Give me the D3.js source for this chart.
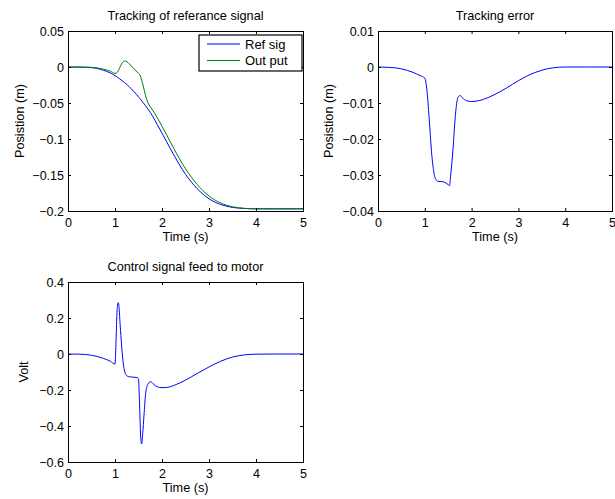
<!DOCTYPE html>
<html>
<meta charset="utf-8">
<head>
  <title>Tracking plots</title>
</head>

<style>
body { margin: 0; background: white; }
text {
  font-family: "Liberation Sans", Arial, Helvetica, sans-serif;
  font-size: 12.7px;
  fill: black;
}
.tick text { font-size: 12.5px; }
.legend text { font-size: 13px; }
</style>

<body>
  <div id="chart"></div>

  <script src="https://d3js.org/d3.v7.min.js"></script>
  <script>

// time base for position plots (s)
var timePos = [0, 0.25, 0.5, 0.75, 0.9, 1.0, 1.05, 1.1, 1.15, 1.2, 1.25, 1.3, 1.35, 1.4, 1.45, 1.5, 1.53, 1.55,
  1.6, 1.65, 1.7, 1.75, 1.8, 1.9, 2.0, 2.1, 2.25, 2.5, 2.75, 3.0, 3.25, 3.5, 3.75, 4.0, 4.5, 5.0];

var refSig = [0, -0.0002, -0.0009, -0.0045, -0.0082, -0.0120, -0.0142, -0.0165, -0.0190, -0.0215, -0.0240,
  -0.0272, -0.0305, -0.0340, -0.0377, -0.0415, -0.0439, -0.0455, -0.0496, -0.0538, -0.0583, -0.0630, -0.0683,
  -0.0800, -0.0920, -0.1040, -0.1220, -0.1490, -0.1690, -0.1830, -0.1910, -0.1950, -0.1965, -0.1970, -0.1970, -0.1970];

var outPut = [0, -0.0001, -0.0004, -0.0030, -0.0058, -0.0089, -0.0072, -0.0010, 0.0055, 0.0082, 0.0075,
  0.0046, 0.0013, -0.0021, -0.0055, -0.0088, -0.0110, -0.0145, -0.0261, -0.0398, -0.0495, -0.0551, -0.0598,
  -0.0706, -0.0824, -0.0945, -0.1130, -0.1414, -0.1632, -0.1792, -0.1889, -0.1941, -0.1963, -0.1970, -0.1970, -0.1970];

var trackErr = [0, -0.0001, -0.0005, -0.0015, -0.0024, -0.0031, -0.0070, -0.0155, -0.0245, -0.0297, -0.0315,
  -0.0318, -0.0318, -0.0319, -0.0322, -0.0327, -0.0329, -0.0305, -0.0233, -0.0140, -0.0088, -0.0079, -0.0085,
  -0.0094, -0.0096, -0.0095, -0.0090, -0.0076, -0.0058, -0.0038, -0.0021, -0.0009, -0.0002, 0, 0, 0];

// control signal has its own time base
var timeCtl = [0, 0.25, 0.5, 0.75, 0.9, 1.0, 1.01, 1.025, 1.04, 1.055, 1.07, 1.085, 1.11, 1.14, 1.17, 1.2,
  1.24, 1.28, 1.35, 1.45, 1.49, 1.5, 1.52, 1.545, 1.567, 1.59, 1.617, 1.65, 1.7, 1.76, 1.83, 1.9, 2.0, 2.1,
  2.25, 2.5, 2.75, 3.0, 3.25, 3.5, 3.75, 4.0, 4.5, 5.0];

var ctlVolt = [0, -0.001, -0.007, -0.024, -0.040, -0.056, -0.020, 0.100, 0.220, 0.272, 0.285, 0.262, 0.160,
  0.050, -0.040, -0.090, -0.118, -0.125, -0.128, -0.130, -0.135, -0.140, -0.260, -0.450, -0.500, -0.440,
  -0.340, -0.225, -0.168, -0.154, -0.170, -0.182, -0.187, -0.186, -0.175, -0.145, -0.108, -0.072, -0.040,
  -0.017, -0.005, -0.001, 0, 0];

var timeTicks = [0, 1, 2, 3, 4, 5];
var posTicks = [0.05, 0, -0.05, -0.1, -0.15, -0.2];
var posTickLabels = ["0.05", "0", "\u22120.05", "\u22120.1", "\u22120.15", "\u22120.2"];
var errTicks = [0.01, 0, -0.01, -0.02, -0.03, -0.04];
var errTickLabels = ["0.01", "0", "\u22120.01", "\u22120.02", "\u22120.03", "\u22120.04"];
var voltTicks = [0.4, 0.2, 0, -0.2, -0.4, -0.6];
var voltTickLabels = ["0.4", "0.2", "0", "\u22120.2", "\u22120.4", "\u22120.6"];
var legendNames = ["Ref sig", "Out put"];

var svg = d3.select('#chart')
  .append('svg')
  .attr('width', 615)
  .attr('height', 499);

svg.append('rect').attr('width', 615).attr('height', 499).attr('fill', 'white');

function drawPanel(p) {
  var w = p.right - p.left, h = p.bottom - p.top;
  var x = d3.scaleLinear().domain([0, 5]).range([0, w]);
  var y = d3.scaleLinear().domain([p.ticks[p.ticks.length - 1], p.ticks[0]]).range([h, 0]);

  var g = svg.append('g').attr('transform', `translate(${p.left},${p.top})`);

  // lines first so the frame sits on top
  p.series.forEach(function(s) {
    var pts = s.t.map(function(t, i) { return [t, s.v[i]]; });
    var line = d3.line()
      .x(function(d) { return x(d[0]); })
      .y(function(d) { return y(d[1]); })
      .curve(d3.curveMonotoneX);
    g.append('path')
      .attr('d', line(pts))
      .attr('fill', 'none')
      .attr('stroke', s.color)
      .attr('stroke-width', 1);
  });

  var fmtY = function(d) { return p.labels[p.ticks.indexOf(d)]; };

  g.append('g').attr('transform', `translate(0,${h})`)
    .call(d3.axisBottom(x).tickValues(timeTicks).tickSize(-3).tickPadding(7).tickFormat(d3.format('d')));
  g.append('g')
    .call(d3.axisTop(x).tickValues(timeTicks).tickSize(-3).tickFormat(''));
  g.append('g')
    .call(d3.axisLeft(y).tickValues(p.ticks).tickSize(-3).tickPadding(4).tickFormat(fmtY));
  g.append('g').attr('transform', `translate(${w},0)`)
    .call(d3.axisRight(y).tickValues(p.ticks).tickSize(-3).tickFormat(''));

  g.selectAll('.domain').remove();
  g.selectAll('.tick line').attr('stroke', 'black');
  g.selectAll('.tick text').attr('fill', 'black').attr('font-family', null).attr('font-size', null);

  g.append('rect')
    .attr('width', w).attr('height', h)
    .attr('fill', 'none').attr('stroke', 'black').attr('stroke-width', 1)
    .attr('shape-rendering', 'crispEdges');

  g.append('text').attr('x', w / 2).attr('y', -11.5)
    .attr('text-anchor', 'middle').text(p.title);
  g.append('text').attr('x', w / 2).attr('y', h + 30)
    .attr('text-anchor', 'middle').text('Time (s)');
  g.append('text')
    .attr('transform', `translate(${-p.ylabOff},${h / 2}) rotate(-90)`)
    .attr('text-anchor', 'middle').attr('dy', '0.35em')
    .text(p.ylabel);

  if (p.legend) {
    var lg = g.append('g').attr('class', 'legend').attr('transform', `translate(${w - 104},4)`);
    lg.append('rect').attr('width', 103).attr('height', 36)
      .attr('fill', 'white').attr('stroke', 'black').attr('stroke-width', 1.2);
    p.series.forEach(function(s, i) {
      var yy = 9 + i * 16.5;
      lg.append('line').attr('x1', 8).attr('x2', 41).attr('y1', yy).attr('y2', yy)
        .attr('stroke', s.color).attr('stroke-width', 1);
      lg.append('text').attr('x', 46).attr('y', yy).attr('dy', '0.35em').text(legendNames[i]);
    });
  }
}

drawPanel({
  left: 68, right: 303, top: 31, bottom: 211,
  ticks: posTicks, labels: posTickLabels,
  title: 'Tracking of referance signal', ylabel: 'Posistion (m)', ylabOff: 48,
  legend: true,
  series: [
    {t: timePos, v: refSig, color: '#0000ff'},
    {t: timePos, v: outPut, color: '#008000'}
  ]
});

drawPanel({
  left: 378, right: 612, top: 31, bottom: 211,
  ticks: errTicks, labels: errTickLabels,
  title: 'Tracking error', ylabel: 'Posistion (m)', ylabOff: 49,
  series: [{t: timePos, v: trackErr, color: '#0000ff'}]
});

drawPanel({
  left: 68, right: 303, top: 282, bottom: 462,
  ticks: voltTicks, labels: voltTickLabels,
  title: 'Control signal feed to motor', ylabel: 'Volt', ylabOff: 44,
  series: [{t: timeCtl, v: ctlVolt, color: '#0000ff'}]
});

  </script>
</body>
</html>
